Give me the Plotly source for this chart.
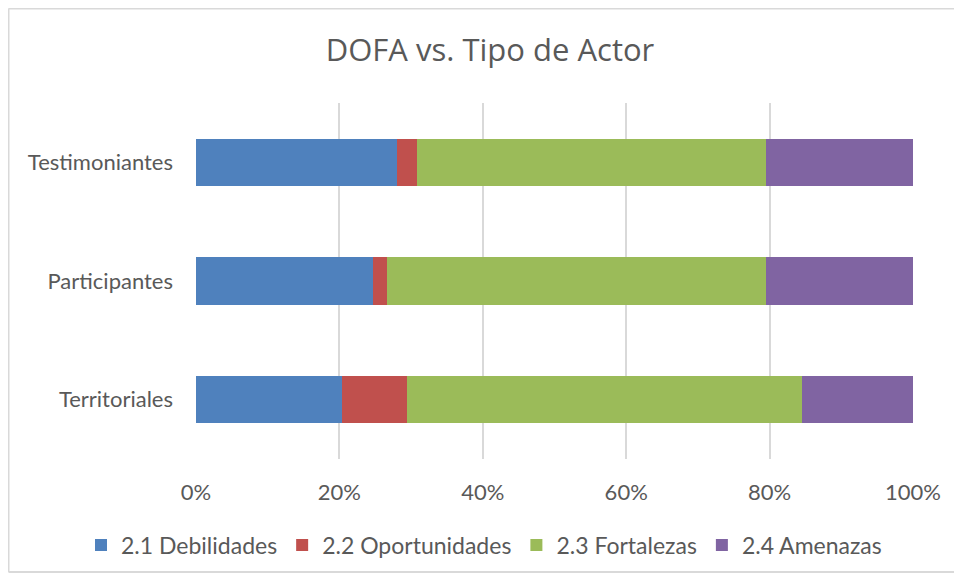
import plotly.graph_objects as go

categories = ["Territoriales", "Participantes", "Testimoniantes"]
series_names = ["2.1 Debilidades", "2.2 Oportunidades", "2.3 Fortalezas", "2.4 Amenazas"]
debilidades = [20.3, 24.7, 28.0]
oportunidades = [9.1, 2.0, 2.8]
fortalezas = [55.1, 52.8, 48.7]
amenazas = [15.5, 20.5, 20.5]
colors = ["#4F81BD", "#C0504D", "#9BBB59", "#8064A2"]
x_ticks = [0, 0.2, 0.4, 0.6, 0.8, 1.0]
x_tick_labels = ["0%", "20%", "40%", "60%", "80%", "100%"]

series_values = [debilidades, oportunidades, fortalezas, amenazas]
totals = [sum(v) for v in zip(*series_values)]

fig = go.Figure()
for name, vals, col in zip(series_names, series_values, colors):
    fig.add_trace(go.Bar(
        y=categories,
        x=[v / t for v, t in zip(vals, totals)],
        name=name,
        orientation="h",
        marker=dict(color=col, line=dict(width=0)),
    ))

# page body has an 8px margin on every side, so figure coords = reference coords - 8
OFF = 8
W, H = 962 - 2 * OFF, 581 - 2 * OFF
ml, mt = 196 - OFF, 103 - OFF
pw, ph = 717, 356
mr, mb = W - ml - pw, H - mt - ph

fig.update_layout(
    width=W, height=H,
    barmode="stack",
    bargap=0.6,
    margin=dict(l=ml, r=mr, t=mt, b=mb, pad=0, autoexpand=False),
    paper_bgcolor="white",
    plot_bgcolor="white",
    font=dict(family="Lato, sans-serif", size=22, color="#595959"),
    title=dict(text="DOFA vs. Tipo de Actor", x=(490 - OFF) / W, xanchor="center",
               y=1 - (50 - OFF) / H, yanchor="middle",
               font=dict(family="Open Sans, sans-serif", size=31, color="#595959")),
    xaxis=dict(range=[0, 1], tickvals=x_ticks, ticktext=x_tick_labels,
               showgrid=True, gridcolor="#D9D9D9", gridwidth=1.5,
               zeroline=False, showline=False, ticks="",
               ticklabelstandoff=18, fixedrange=True),
    yaxis=dict(showgrid=False, showline=False, ticks="", zeroline=False,
               ticklabelstandoff=22, fixedrange=True),
    legend=dict(orientation="h",
                x=(81 - 196) / pw, xanchor="left",
                y=-(545 - 459) / ph, yanchor="middle",
                traceorder="normal", font=dict(size=23, color="#595959"),
                itemwidth=30, bgcolor="rgba(0,0,0,0)"),
    showlegend=True,
)

# outer chart frame: left, top and bottom edges (right edge lies outside the view)
bx0 = (0.5 - ml) / pw
bx1 = (W + 40 - ml) / pw
by0 = -(mb - 1) / ph
by1 = 1 + (mt - 0.5) / ph
for (xa, ya, xb, yb) in [(bx0, by0, bx0, by1), (bx0, by1, bx1, by1), (bx0, by0, bx1, by0)]:
    fig.add_shape(type="line", xref="paper", yref="paper",
                  x0=xa, y0=ya, x1=xb, y1=yb,
                  line=dict(color="#D9D9D9", width=2), layer="below")

fig.write_html("out.html")
